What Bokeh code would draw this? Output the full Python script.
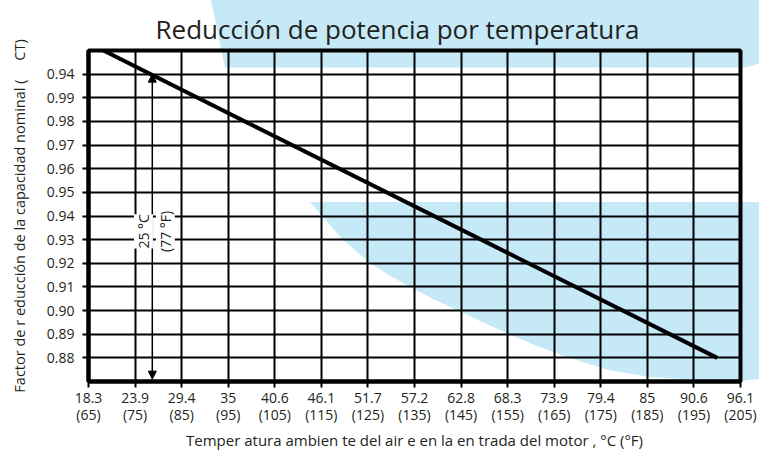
from math import pi
from urllib.parse import quote
from bokeh.plotting import figure
from bokeh.models import FixedTicker, Range1d, Arrow, NormalHead, Label
from bokeh.embed import file_html
from bokeh.resources import INLINE

# ---- texts ----
title_text = "Reducción de potencia por temperatura"
x_label = "Temper atura ambien te del air e en la en trada del motor , °C (°F)"
y_label = "Factor de r educción de la capacidad nominal (\u00a0\u00a0\u00a0\u00a0\u00a0CT)"

# ---- axis ticks ----
temp_f_ticks = [65, 75, 85, 95, 105, 115, 125, 135, 145, 155, 165, 175, 185, 195, 205]
temp_c_labels = ["18.3", "23.9", "29.4", "35", "40.6", "46.1", "51.7", "57.2",
                 "62.8", "68.3", "73.9", "79.4", "85", "90.6", "96.1"]
factor_ticks = [0.88, 0.89, 0.90, 0.91, 0.92, 0.93, 0.94, 0.95, 0.96, 0.97, 0.98, 0.99, 1.00]
factor_labels = ["0.88", "0.89", "0.90", "0.91", "0.92", "0.93", "0.94", "0.95",
                 "0.96", "0.97", "0.98", "0.99", "0.94"]

# ---- derating line (°F, factor) ----
line_temp_f = [68.2, 200.0]
line_factor = [1.01, 0.88]

# ---- reference arrow at 25 °C ----
ref_temp_f = 78.7
ref_factor_top = 1.00
ref_factor_bottom = 0.871
ref_label_c = "25 °C"
ref_label_f = "(77 °F)"

TXT = "#231f20"
BLUE = "#c6e9f7"
FONT = "Open Sans"

# decorative light-blue background shapes (page pixels), drawn as a CSS background
top_band = [(211, 0), (759, 0), (759, 63), (752, 66), (744, 67.5), (225, 67.5)]
low_band = [(310, 202), (759, 202), (759, 379), (740, 381), (698, 380), (650, 377), (608, 370),
            (567, 357), (537, 346), (507, 333), (482, 322), (457, 310), (433, 299), (410, 287),
            (389, 275), (370, 263), (343, 240)]


def pts(poly):
    return " ".join(f"{x},{y}" for x, y in poly)


svg_bg = (f"<svg xmlns='http://www.w3.org/2000/svg' width='759' height='452'>"
          f"<polygon points='{pts(top_band)}' fill='{BLUE}'/>"
          f"<polygon points='{pts(low_band)}' fill='{BLUE}'/></svg>")

p = figure(width=759, height=452, output_backend="svg", toolbar_location=None,
           x_range=Range1d(65, 205), y_range=Range1d(0.87, 1.01),
           min_border_left=88, min_border_right=19, min_border_top=50, min_border_bottom=71,
           background_fill_color=None, border_fill_color=None,
           outline_line_color="black", outline_line_width=4, outline_line_alpha=1)
p.styles = {"background-image": f'url("data:image/svg+xml,{quote(svg_bg)}")',
            "background-repeat": "no-repeat", "background-color": "white"}

p.line(line_temp_f, line_factor, line_color="black", line_width=4)

# arrow and labels
head = dict(size=8, fill_color="black", line_color="black")
p.add_layout(Arrow(x_start=ref_temp_f, y_start=ref_factor_bottom, x_end=ref_temp_f, y_end=ref_factor_top,
                   start=NormalHead(**head), end=NormalHead(**head), line_width=1.5, line_color="black"))
p.add_layout(Label(x=76.8, y=0.9335, text=ref_label_c, angle=pi / 2, text_align="center",
                   text_baseline="middle", text_font=FONT, text_font_size="14px", text_color=TXT,
                   background_fill_color="white", background_fill_alpha=1))
p.add_layout(Label(x=81.5, y=0.9335, text=ref_label_f, angle=pi / 2, text_align="center",
                   text_baseline="middle", text_font=FONT, text_font_size="14px", text_color=TXT,
                   background_fill_color="white", background_fill_alpha=1))

# title
p.title.text = title_text
p.title.align = "left"
p.title.offset = 67
p.title.text_font = FONT
p.title.text_font_size = "26px"
p.title.text_font_style = "normal"
p.title.text_color = TXT
p.title.standoff = 7

# axes
x_ticker = FixedTicker(ticks=temp_f_ticks)
y_ticker = FixedTicker(ticks=factor_ticks)
p.xaxis.ticker = x_ticker
p.xaxis.major_label_overrides = {f: f"{c}\n({f})" for f, c in zip(temp_f_ticks, temp_c_labels)}
p.yaxis.ticker = y_ticker
p.yaxis.major_label_overrides = dict(zip(factor_ticks, factor_labels))
p.xgrid.ticker = x_ticker
p.ygrid.ticker = y_ticker
for ax in (p.xaxis[0], p.yaxis[0]):
    ax.axis_line_color = "black"
    ax.axis_line_width = 4
    ax.major_tick_line_color = "black"
    ax.major_tick_line_width = 2
    ax.major_tick_out = 6
    ax.major_tick_in = 0
    ax.minor_tick_line_color = None
    ax.major_label_text_font = FONT
    ax.major_label_text_font_size = "14px"
    ax.major_label_text_color = TXT
    ax.axis_label_text_font = FONT
    ax.axis_label_text_font_style = "normal"
    ax.axis_label_text_color = TXT
p.xaxis.axis_label = x_label
p.yaxis.axis_label = y_label
p.xaxis.axis_label_text_font_size = "15px"
p.yaxis.axis_label_text_font_size = "14.5px"
p.xaxis.major_label_text_line_height = 0.9
p.xaxis.major_label_standoff = 0
p.xaxis.axis_label_standoff = 3
p.yaxis.major_label_standoff = 8
p.yaxis.axis_label_standoff = 15

for g in (p.xgrid[0], p.ygrid[0]):
    g.grid_line_color = "black"
    g.grid_line_width = 2
    g.grid_line_alpha = 1

open("out.html", "w").write(file_html(p, INLINE))
